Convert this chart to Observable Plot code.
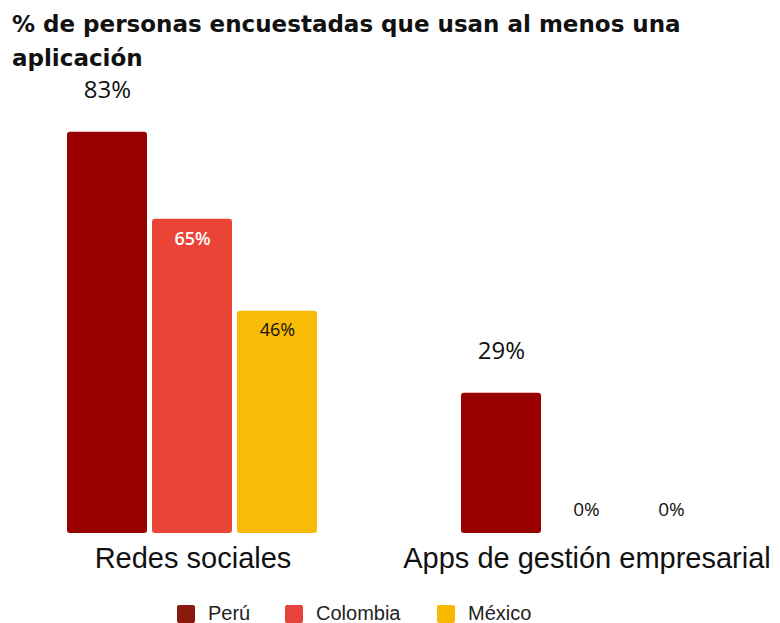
<!DOCTYPE html>
<html>
<head>
<meta charset="utf-8">
<script src="https://cdn.jsdelivr.net/npm/d3@7"></script>
<script src="https://cdn.jsdelivr.net/npm/@observablehq/plot@0.6"></script>
<style>
  html, body { margin: 0; padding: 0; background: #fff; }
  body { width: 780px; height: 623px; overflow: hidden; position: relative; }
  #title { position: absolute; left: 0; top: 0; box-sizing: border-box; padding: 7px 0 0 12px; width: 730px;
           font-family: "DejaVu Sans", sans-serif; font-weight: bold; font-size: 23px; line-height: 34px; color: #111; }
  #chart { margin-top: 66px; height: 524px; }
  #legend { position: relative; height: 33px; font-family: "Liberation Sans", Arial, sans-serif; font-size: 20px; color: #222; }
  .item { position: absolute; top: 12px; display: flex; align-items: center; }
  .sw { width: 18px; height: 18px; border-radius: 2px; margin-right: 13px; }
</style>
</head>
<body>
<div id="chart"></div>
<div id="legend"></div>
<div id="title">% de personas encuestadas que usan al menos una aplicación</div>
<script>
const categories = ["Redes sociales", "Apps de gestión empresarial"];
const countries = ["Perú", "Colombia", "México"];
const peru = [83, 29];
const colombia = [65, 0];
const mexico = [46, 0];
const barColors = ["#990000", "#E94435", "#F8BB06"];
const legendColors = ["#8B1A0E", "#E8433A", "#F9B800"];

const series = [peru, colombia, mexico];
const data = [];
categories.forEach((cat, i) => {
  countries.forEach((c, j) => {
    data.push({category: cat, country: c, value: series[j][i]});
  });
});
const fmt = d => `${d.value}%`;

const chart = Plot.plot({
  width: 780,
  height: 524,
  marginTop: 32,
  marginBottom: 57,
  marginLeft: 66,
  marginRight: 67,
  style: {fontFamily: "Liberation Sans, Arial, sans-serif", fontSize: "29px", color: "#111"},
  fx: {domain: categories, paddingInner: 0.358, paddingOuter: 0, label: null, tickSize: 0, tickPadding: 14},
  x: {domain: countries, paddingInner: 0.058, paddingOuter: 0, axis: null},
  y: {domain: [0, 90], axis: null},
  color: {domain: countries, range: barColors},
  marks: [
    Plot.barY(data, {fx: "category", x: "country", y: "value", fill: "country", rx: 3}),
    Plot.text(data.filter(d => d.country === "Perú"), {
      fx: "category", x: "country", y: "value", text: fmt, dy: -42,
      fontSize: 24, fontFamily: "Open Sans, sans-serif", fill: "#111"
    }),
    Plot.text(data.filter(d => d.country === "Colombia" && d.value > 0), {
      fx: "category", x: "country", y: "value", text: fmt, dy: 20,
      fontSize: 18, fontWeight: 600, fontFamily: "Open Sans, sans-serif", fill: "#fff"
    }),
    Plot.text(data.filter(d => d.country === "México" && d.value > 0), {
      fx: "category", x: "country", y: "value", text: fmt, dy: 19,
      fontSize: 18, fontFamily: "Open Sans, sans-serif", fill: "#111"
    }),
    Plot.text(data.filter(d => d.country !== "Perú" && d.value === 0), {
      fx: "category", x: "country", y: "value", text: fmt, dy: -24,
      fontSize: 19, fontFamily: "Open Sans, sans-serif", fill: "#111"
    })
  ]
});
document.getElementById("chart").appendChild(chart);

const legendLeft = [177, 285, 437];
const legend = document.getElementById("legend");
countries.forEach((c, j) => {
  const item = document.createElement("div");
  item.className = "item";
  item.style.left = legendLeft[j] + "px";
  const sw = document.createElement("span");
  sw.className = "sw";
  sw.style.background = legendColors[j];
  const t = document.createElement("span");
  t.textContent = c;
  item.appendChild(sw);
  item.appendChild(t);
  legend.appendChild(item);
});
</script>
</body>
</html>
